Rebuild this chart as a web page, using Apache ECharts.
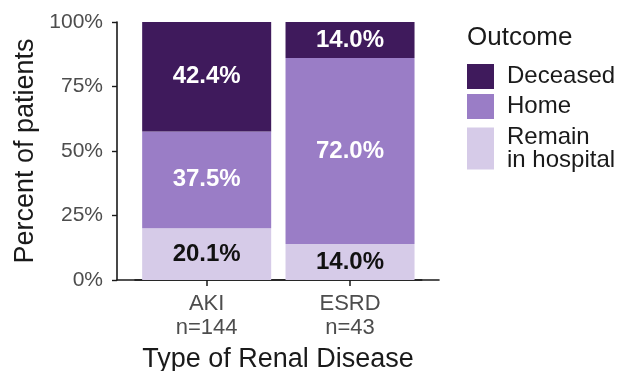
<!DOCTYPE html>
<html>
<head>
<meta charset="utf-8">
<script src="https://cdn.jsdelivr.net/npm/echarts@6/dist/echarts.min.js"></script>
<style>
  html, body { margin: 0; padding: 0; background: #ffffff; }
  #chart { width: 619px; height: 371px; }
</style>
</head>
<body>
<div id="chart"></div>
<script>
// Outcome by type of renal disease (percent of patients)
const categories = ['AKI', 'ESRD'];
const groupSizes = ['n=144', 'n=43'];
const remainInHospital = [20.1, 14.0];
const home = [37.5, 72.0];
const deceased = [42.4, 14.0];
const yTicks = [0, 25, 50, 75, 100];

const FONT = 'Liberation Sans, Arial, sans-serif';
const INK = '#1a1a1a';
const colors = {
  deceased: '#3f1a5c',
  home: '#9a7dc6',
  remain: '#d6cbe8'
};

function barSeries(name, vals, color, labelColor) {
  return {
    name: name,
    type: 'bar',
    stack: 'outcome',
    xAxisIndex: 0,
    yAxisIndex: 0,
    barWidth: '90%',
    data: vals,
    itemStyle: { color: color },
    label: {
      show: true,
      position: 'inside',
      formatter: p => p.value.toFixed(1) + '%',
      color: labelColor,
      fontFamily: FONT,
      fontWeight: 'bold',
      fontSize: 24
    },
    emphasis: { disabled: true }
  };
}

function legendFor(name, top, iconHeight) {
  return {
    data: [name],
    left: 467,
    top: top,
    orient: 'vertical',
    padding: 0,
    itemWidth: 27,
    itemHeight: iconHeight,
    icon: 'rect',
    selectedMode: false,
    formatter: n => n === 'Remain in hospital' ? 'Remain\nin hospital' : n,
    textStyle: {
      fontFamily: FONT,
      fontSize: 24,
      color: INK,
      lineHeight: 23,
      padding: [0, 0, 0, 8]
    }
  };
}

const chart = echarts.init(document.getElementById('chart'), null, { renderer: 'canvas' });

chart.setOption({
  animation: false,
  backgroundColor: '#ffffff',
  title: {
    text: 'Outcome',
    left: 467,
    top: 25,
    padding: 0,
    textStyle: { fontFamily: FONT, fontSize: 26, fontWeight: 'normal', color: INK }
  },
  legend: [
    legendFor('Deceased', 64, 25),
    legendFor('Home', 94, 25),
    legendFor('Remain in hospital', 125, 42)
  ],
  grid: [
    // plotting band for the two bars
    { left: 135, top: 22, width: 286.7, height: 258, containLabel: false, outerBoundsMode: 'none' },
    // full panel width, carries the x axis line and title
    { left: 117, top: 22, width: 322, height: 258, containLabel: false, outerBoundsMode: 'none' }
  ],
  xAxis: [
    {
      type: 'category',
      gridIndex: 0,
      data: categories,
      boundaryGap: true,
      axisLine: { show: true, onZero: false, lineStyle: { color: INK, width: 1.6 } },
      axisTick: { show: true, alignWithLabel: true, length: 6, lineStyle: { color: INK, width: 1.5 } },
      axisLabel: {
        margin: 12,
        formatter: (v, i) => v + '\n' + groupSizes[i],
        fontFamily: FONT,
        fontSize: 22,
        lineHeight: 24,
        color: '#4d4d4d'
      },
      splitLine: { show: false }
    },
    {
      type: 'value',
      gridIndex: 1,
      min: 0,
      max: 1,
      name: 'Type of Renal Disease',
      nameLocation: 'middle',
      nameGap: 66,
      nameTextStyle: { fontFamily: FONT, fontSize: 27, color: INK },
      axisLine: { show: true, onZero: false, lineStyle: { color: INK, width: 1.6 } },
      axisTick: { show: false },
      axisLabel: { show: false },
      splitLine: { show: false }
    }
  ],
  yAxis: [
    {
      type: 'value',
      gridIndex: 0,
      min: 0,
      max: 100,
      interval: 25,
      offset: 18,
      name: 'Percent of patients',
      nameLocation: 'middle',
      nameGap: 78,
      nameRotate: 90,
      nameTextStyle: { fontFamily: FONT, fontSize: 27, color: INK },
      splitLine: { show: false },
      axisLine: { show: true, lineStyle: { color: INK, width: 1.6 } },
      axisTick: { show: true, length: 5, lineStyle: { color: INK, width: 1.4 } },
      axisLabel: {
        formatter: v => yTicks.includes(v) ? v + '%' : '',
        margin: 14,
        fontFamily: FONT,
        fontSize: 21,
        color: '#4d4d4d'
      }
    },
    {
      type: 'value',
      gridIndex: 1,
      min: 0,
      max: 1,
      show: false
    }
  ],
  series: [
    barSeries('Remain in hospital', remainInHospital, colors.remain, '#111111'),
    barSeries('Home', home, colors.home, '#ffffff'),
    barSeries('Deceased', deceased, colors.deceased, '#ffffff')
  ]
});
</script>
</body>
</html>
